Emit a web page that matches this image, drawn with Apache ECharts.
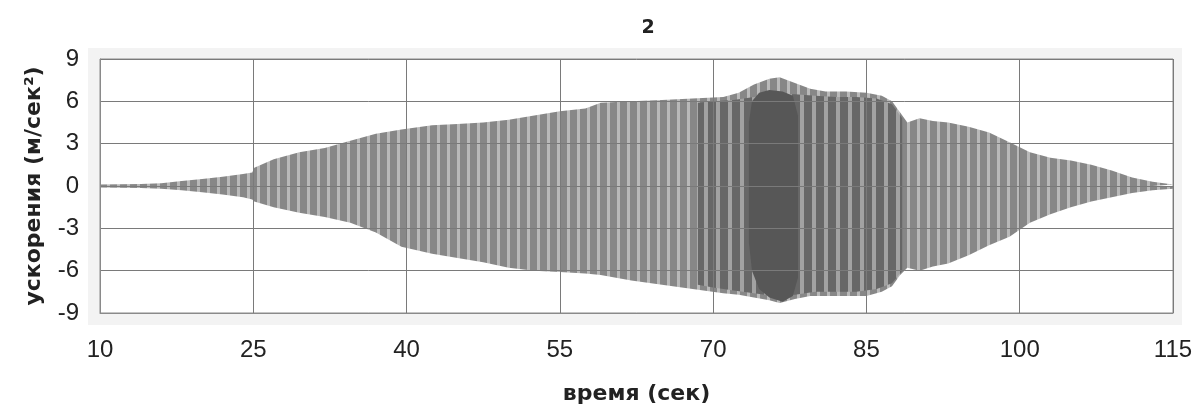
<!DOCTYPE html>
<html>
<head>
<meta charset="utf-8">
<script src="https://cdn.jsdelivr.net/npm/echarts@6/dist/echarts.min.js"></script>
<style>
html,body{margin:0;padding:0;background:#fff;}
#chart{width:1197px;height:412px;}
</style>
</head>
<body>
<div id="chart"></div>
<script>
// ---- data (envelope of the acceleration record) ----
const xTickLabels = [10, 25, 40, 55, 70, 85, 100, 115];
const yTickLabels = [-9, -6, -3, 0, 3, 6, 9];

// overall envelope
const times = [10, 12, 14, 16, 18, 20, 22, 24, 24.9, 25.1, 27, 29.5, 32, 34.5, 37, 39.5, 42.5, 45, 47.5, 50, 52.5, 55, 57.5, 59, 62, 65, 68, 71, 72.5, 74, 75.5, 76.5, 78, 79.5, 81, 83, 85, 86.5, 87.5, 88.3, 89, 90.2, 91.5, 93, 95, 97, 99, 101, 103, 105, 107, 109, 111, 113, 115];
const upper = [0.1, 0.12, 0.15, 0.2, 0.35, 0.5, 0.65, 0.85, 0.95, 1.3, 1.9, 2.4, 2.7, 3.2, 3.7, 4.0, 4.3, 4.4, 4.5, 4.7, 5.0, 5.3, 5.5, 5.9, 6.0, 6.1, 6.2, 6.3, 6.6, 7.2, 7.6, 7.7, 7.3, 6.9, 6.7, 6.7, 6.6, 6.4, 6.0, 5.2, 4.5, 4.8, 4.6, 4.5, 4.2, 3.8, 3.1, 2.4, 2.0, 1.8, 1.5, 1.1, 0.6, 0.3, 0.1];
const lower = [-0.1, -0.12, -0.15, -0.2, -0.3, -0.45, -0.6, -0.8, -0.95, -1.1, -1.5, -1.9, -2.2, -2.6, -3.3, -4.3, -4.8, -5.1, -5.4, -5.8, -6.0, -6.1, -6.2, -6.3, -6.7, -7.0, -7.3, -7.6, -7.7, -7.9, -8.1, -8.3, -8.0, -7.8, -7.8, -7.8, -7.8, -7.5, -7.1, -6.3, -5.8, -6.0, -5.7, -5.5, -4.9, -4.2, -3.6, -2.6, -2.0, -1.5, -1.1, -0.8, -0.5, -0.3, -0.2];

// darker striped section
const times2 = [68.5, 70, 72, 74, 76, 78, 80, 82, 84, 86, 87.5, 88.5];
const upper2 = [5.9, 6.0, 6.1, 6.3, 6.5, 6.5, 6.4, 6.3, 6.3, 6.2, 5.8, 4.8];
const lower2 = [-7.0, -7.2, -7.4, -7.6, -7.8, -7.7, -7.5, -7.5, -7.5, -7.3, -6.9, -6.0];

// dark core
const times3 = [73.5, 73.8, 74.5, 75.5, 76.8, 77.8, 78.3];
const upper3 = [4.5, 6.0, 6.6, 6.8, 6.7, 6.4, 5.0];
const lower3 = [-4.0, -6.0, -7.3, -7.9, -8.2, -7.8, -6.5];

const X0 = xTickLabels[0];

function stripes(w, gap, dark, light) {
  const c = document.createElement('canvas');
  c.width = w; c.height = 4;
  const g = c.getContext('2d');
  g.fillStyle = dark; g.fillRect(0, 0, w, 4);
  g.fillStyle = light; g.fillRect(w - gap, 0, gap, 4);
  return c;
}
const pat1 = { image: stripes(10, 3, '#878787', '#b9b9b9'), repeat: 'repeat' };
const pat2 = { image: stripes(12, 4, '#676767', '#a2a2a2'), repeat: 'repeat' };

function band(t, up, lo, color, z) {
  const mk = (vals) => ({
    type: 'line',
    data: t.map((x, i) => [x - X0, vals[i]]),
    showSymbol: false,
    silent: true,
    z: z,
    lineStyle: { width: 0 },
    areaStyle: { color: color, opacity: 1 },
    animation: false
  });
  return [mk(up), mk(lo)];
}

const chart = echarts.init(document.getElementById('chart'));
const option = {
  animation: false,
  backgroundColor: '#ffffff',
  title: {
    text: '2',
    left: 643,
    top: 14,
    textAlign: 'center',
    textStyle: { fontFamily: 'DejaVu Sans', fontWeight: 'bold', fontSize: 19, color: '#222' }
  },
  graphic: [{
    type: 'rect', z: -100, silent: true,
    shape: { x: 88, y: 48, width: 1094, height: 277 },
    style: { fill: '#f3f3f3' }
  }],
  grid: {
    left: 100, right: 24, top: 59, bottom: 99,
    show: true, backgroundColor: '#ffffff', borderColor: '#8a8a8a', borderWidth: 1
  },
  xAxis: {
    type: 'value',
    min: 0, max: xTickLabels[xTickLabels.length - 1] - X0, interval: 15,
    z: 10,
    name: 'время (сек)',
    nameLocation: 'middle',
    nameGap: 70,
    nameTextStyle: { fontFamily: 'DejaVu Sans', fontWeight: 'bold', fontSize: 22, color: '#222' },
    axisLine: { show: true, onZero: false, lineStyle: { color: '#8a8a8a' } },
    axisTick: { show: false },
    axisLabel: {
      margin: 25, fontFamily: 'Liberation Sans', fontSize: 24, color: '#222',
      formatter: v => String(v + X0)
    },
    splitLine: { show: true, lineStyle: { color: '#7a7a7a', width: 1 } }
  },
  yAxis: {
    type: 'value',
    min: yTickLabels[0], max: yTickLabels[yTickLabels.length - 1], interval: 3,
    z: 10,
    name: 'ускорения (м/сек²)',
    nameLocation: 'middle',
    nameGap: 55,
    nameTextStyle: { fontFamily: 'DejaVu Sans', fontWeight: 'bold', fontSize: 22, color: '#222' },
    axisLine: { show: true, lineStyle: { color: '#8a8a8a' } },
    axisTick: { show: false },
    axisLabel: { margin: 21, fontFamily: 'Liberation Sans', fontSize: 24, color: '#222' },
    splitLine: { show: true, lineStyle: { color: '#7a7a7a', width: 1 } }
  },
  series: [].concat(
    band(times, upper, lower, pat1, 2),
    band(times2, upper2, lower2, pat2, 3),
    band(times3, upper3, lower3, '#575757', 4)
  )
};
chart.setOption(option);
</script>
</body>
</html>
